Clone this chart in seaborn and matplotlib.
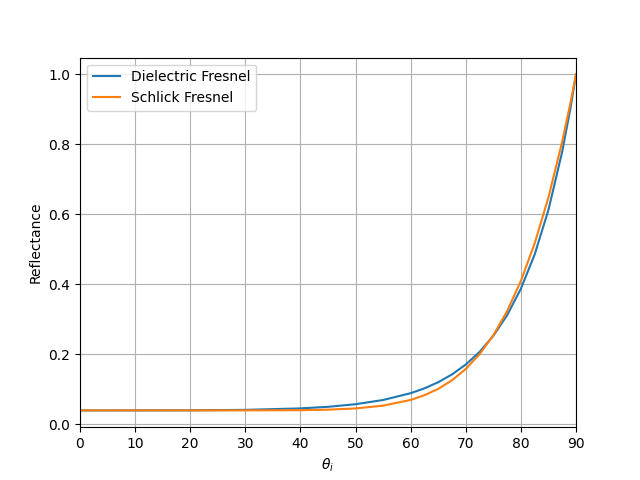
import matplotlib
matplotlib.use("Agg")
import matplotlib.pyplot as plt
import seaborn as sns
import pandas as pd

angles = [0, 10, 20, 30, 40, 45, 50, 55, 60, 62.5, 65, 67.5, 70, 72.5,
          75, 77.5, 80, 82.5, 85, 87.5, 89, 90]
dielectric = [0.04, 0.04002, 0.04027, 0.04152, 0.04573, 0.05024, 0.05766,
              0.06973, 0.08919, 0.10300, 0.12051, 0.14276, 0.17104, 0.20706,
              0.25306, 0.31197, 0.38770, 0.48556, 0.61279, 0.77948, 0.90419, 1.0]
schlick = [0.04, 0.04, 0.04, 0.04004, 0.04067, 0.04207, 0.04558, 0.05354,
           0.07, 0.08337, 0.1016, 0.12606, 0.1584, 0.20053, 0.25473, 0.32356,
           0.4099, 0.51703, 0.64849, 0.80811, 0.91911, 1.0]

df = pd.DataFrame({
    "angle": angles * 2,
    "R": dielectric + schlick,
    "model": ["Dielectric Fresnel"] * len(angles) + ["Schlick Fresnel"] * len(angles),
})

fig, ax = plt.subplots(figsize=(6.4, 4.8), dpi=100)
sns.lineplot(data=df, x="angle", y="R", hue="model", ax=ax,
             palette=["#1f77b4", "#ff7f0e"], linewidth=1.5)
ax.set_xlim(0, 90)
ax.set_xlabel(r"$\theta_i$")
ax.set_ylabel("Reflectance")
ax.grid(True)
ax.legend(title=None, loc="upper left")
fig.savefig("out.png", dpi=100)
